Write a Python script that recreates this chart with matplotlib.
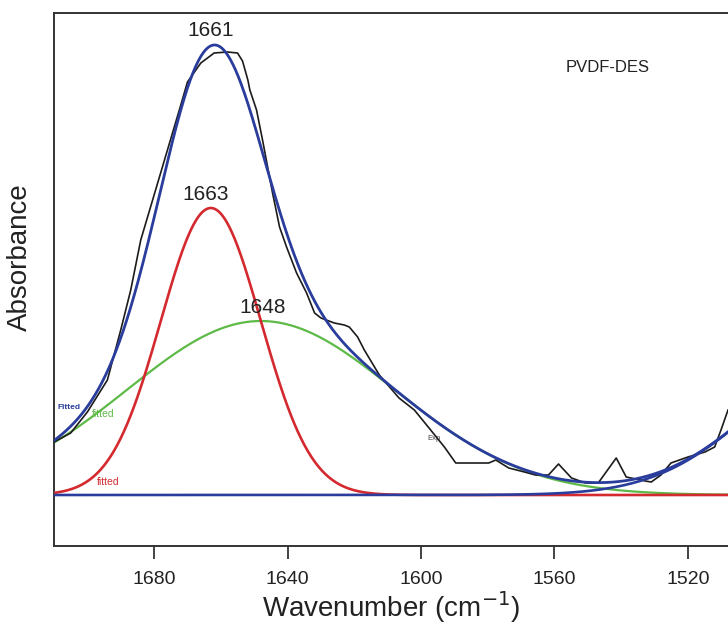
import numpy as np
import matplotlib
matplotlib.use("Agg")
import matplotlib.pyplot as plt

plt.rcParams['font.family'] = ['Liberation Sans', 'DejaVu Sans']

# Experimental spectrum (wavenumber, absorbance)
exp_wn = [1710, 1705, 1700, 1694, 1690, 1687, 1684, 1680, 1676, 1672, 1670,
          1666, 1662, 1658, 1655, 1653.5, 1651.9, 1651.3, 1649.3, 1647.5,
          1644.5, 1642.4, 1640.3, 1637.3, 1634.3, 1631.9, 1630, 1626, 1623,
          1621.5, 1619, 1617, 1612.5, 1606.6, 1602, 1597.6, 1593, 1589.6,
          1585, 1579.7, 1577.6, 1573.7, 1569, 1565.7, 1561.8, 1558.8, 1554.9,
          1550.7, 1546.9, 1541.5, 1538.5, 1532.8, 1531, 1528.1, 1525.1,
          1520, 1514.9, 1512, 1510.1, 1508]
exp_abs = [0.053, 0.062, 0.083, 0.115, 0.165, 0.205, 0.255, 0.300, 0.345,
           0.390, 0.413, 0.432, 0.442, 0.443, 0.442, 0.434, 0.415, 0.405,
           0.385, 0.355, 0.302, 0.268, 0.248, 0.222, 0.202, 0.182, 0.177,
           0.172, 0.170, 0.168, 0.158, 0.145, 0.120, 0.097, 0.085, 0.067,
           0.048, 0.032, 0.032, 0.032, 0.035, 0.027, 0.023, 0.020, 0.020,
           0.031, 0.017, 0.012, 0.012, 0.037, 0.018, 0.014, 0.013, 0.020,
           0.032, 0.038, 0.043, 0.048, 0.065, 0.085]

# Fitted Gaussian components: centre, height, width (sigma)
peak_centers = [1663, 1648, 1470]
peak_heights = [0.287, 0.174, 0.140]
peak_sigmas = [15.0, 40.0, 30.0]
peak_colors = ['#d42a2f', '#5dba47', '#2a3d9c']

label_main = 1661
sample_name = 'PVDF-DES'

wn = np.linspace(1712, 1506, 800)


def gauss(x, c, h, s):
    return h * np.exp(-(x - c) ** 2 / (2 * s ** 2))


comps = [gauss(wn, c, h, s) for c, h, s in zip(peak_centers, peak_heights, peak_sigmas)]
total = np.sum(comps, axis=0)

fig = plt.figure(figsize=(7.28, 6.30), dpi=100)
ax = fig.add_axes([54 / 728, 84 / 630, 1 - 54 / 728, (546 - 13) / 630])

ax.plot(wn, comps[1], color=peak_colors[1], lw=1.6, zorder=2)
ax.plot(wn, comps[0], color=peak_colors[0], lw=1.9, zorder=3)
ax.plot(exp_wn, exp_abs, color='#1c1c1c', lw=1.2, zorder=4)
ax.plot(wn, comps[2], color=peak_colors[2], lw=1.9, zorder=5)
ax.plot(wn, total, color=peak_colors[2], lw=2.0, zorder=5)

ax.set_xlim(1710, 1508)
ax.set_ylim(-0.051, 0.482)

ax.set_xticks([1680, 1640, 1600, 1560, 1520])
ax.set_yticks([])
ax.tick_params(axis='x', direction='out', length=9, width=1.2, pad=9,
               labelsize=14, colors='#222222')
for side in ['left', 'bottom', 'top']:
    ax.spines[side].set_linewidth(1.4)
    ax.spines[side].set_color('#333333')
ax.spines['right'].set_visible(False)

ax.set_xlabel('Wavenumber (cm$^{-1}$)', fontsize=20, color='#222222', labelpad=1)
ax.set_ylabel('Absorbance', fontsize=20, color='#222222')
ax.yaxis.set_label_coords(-0.031, 0.542)

# peak annotations
ax.text(label_main + 2, 0.455, str(label_main), ha='center', va='bottom',
        fontsize=15, color='#222222')
ax.text(peak_centers[0] + 1.5, peak_heights[0] + 0.004, str(peak_centers[0]),
        ha='center', va='bottom', fontsize=15, color='#222222')
ax.text(peak_centers[1] - 0.5, peak_heights[1] + 0.004, str(peak_centers[1]),
        ha='center', va='bottom', fontsize=15, color='#222222')
ax.text(0.822, 0.897, sample_name, transform=ax.transAxes, ha='center', va='center',
        fontsize=12, color='#222222')

# curve tags
ax.text(1709, 0.086, 'Fitted', fontsize=6, color=peak_colors[2], fontweight='bold')
ax.text(1698.5, 0.078, 'fitted', fontsize=7.5, color=peak_colors[1])
ax.text(1697, 0.010, 'fitted', fontsize=7.5, color=peak_colors[0])
ax.text(1598, 0.055, 'Exp', fontsize=5.5, color='#444444')

fig.savefig('out.png', dpi=100)
